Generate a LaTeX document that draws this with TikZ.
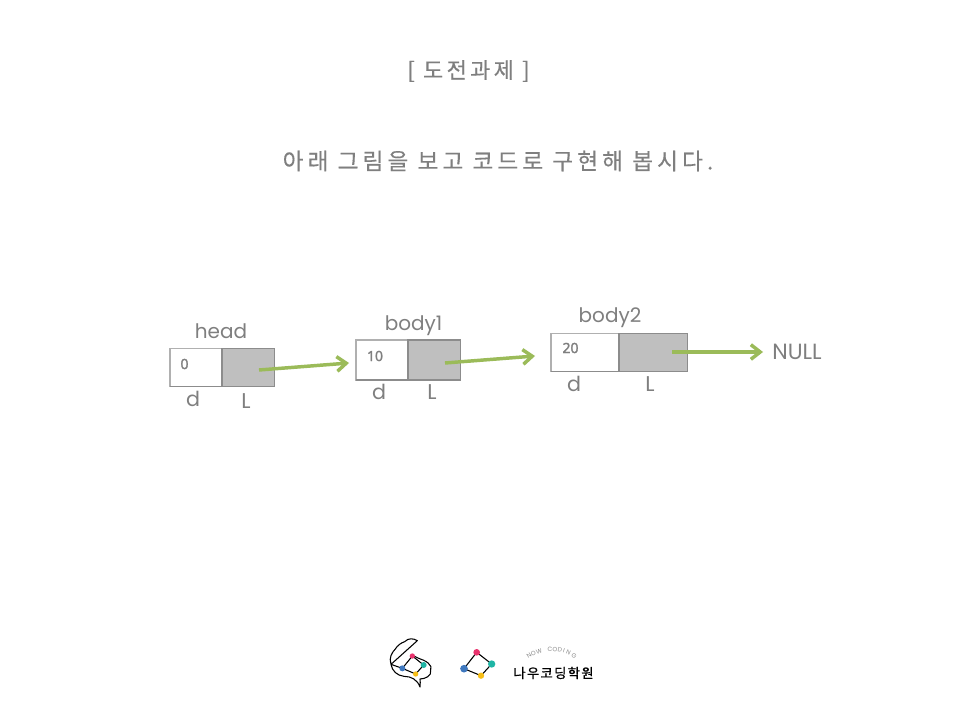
\documentclass[tikz,border=0pt]{standalone}
\usepackage{fontspec}
\usetikzlibrary{arrows.meta}
\setmainfont{Poppins}
\newfontfamily\krtitle[LetterSpace=15,FakeBold=0.3]{Noto Sans CJK KR}
\newfontfamily\krbody[LetterSpace=18,FakeBold=0.3]{Noto Sans CJK KR}
\newfontfamily\krlogo[LetterSpace=10,FakeBold=0.8]{Noto Sans CJK KR}
\newfontfamily\numfont[FakeBold=1.6]{Noto Sans}
\definecolor{txt}{HTML}{7F7F7F}
\definecolor{bord}{HTML}{B0B0B0}
\definecolor{bordd}{HTML}{8C8C8C}
\definecolor{fillg}{HTML}{BFBFBF}
\definecolor{arrowg}{HTML}{9BBB59}
\definecolor{dpink}{HTML}{E8336D}
\definecolor{dteal}{HTML}{1FB5A5}
\definecolor{dyellow}{HTML}{F7BE16}
\definecolor{dblue}{HTML}{3F78BE}
\tikzset{
  cell/.style={line width=0.9pt,inner sep=0pt,outer sep=0pt},
  dcell/.style={cell,draw=bord,fill=white},
  lcell/.style={cell,draw=bordd,fill=fillg},
  lab/.style={text=txt,font=\fontsize{15}{18}\selectfont,inner sep=0pt},
  letterd/.style={text=txt,font=\fontsize{15.5}{18}\selectfont,inner sep=0pt},
  letterl/.style={text=txt,font=\fontsize{16}{18}\selectfont,inner sep=0pt},
  nulltxt/.style={text=txt,font=\fontsize{16.5}{18}\selectfont,inner sep=0pt},
  val/.style={text=txt,font=\numfont\fontsize{10.5}{12}\selectfont,inner sep=0pt},
  link/.style={draw=arrowg,line width=2.6pt,-{Straight Barb[length=7pt,width=11pt,line width=2.6pt]}},
  baseline rule/.style={draw=bordd,line width=0.9pt},
  logoline/.style={draw=black,line width=0.8pt,line join=round},
  ttl/.style={text=txt,inner sep=0pt},
  arcch/.style={text=gray!90,font=\fontsize{4.6}{5}\selectfont,inner sep=0pt},
}
\begin{document}
\begin{tikzpicture}[x=0.75pt,y=-0.75pt]
\useasboundingbox (0,0) rectangle (960,720);
\fill[white] (0,0) rectangle (960,720);
% titles
\node[ttl,font=\krtitle\fontsize{16.5}{18}\selectfont] (title) at (468.5,71) {[ 도전과제 ]};
\node[ttl,font=\krbody\fontsize{17}{18}\selectfont] (sub) at (498,161) {아래 그림을 보고 코드로 구현해 봅시다.};
% cells
\node[dcell,minimum width=39pt,minimum height=29pt] (d0) at (196,367.5) {};
\node[lcell,minimum width=39.5pt,minimum height=29pt] (l0) at (248.3,367.5) {};
\node[dcell,minimum width=39pt,minimum height=30pt] (d1) at (382,360) {};
\node[lcell,minimum width=39.5pt,minimum height=30pt] (l1) at (434.3,360) {};
\node[dcell,minimum width=51pt,minimum height=29pt] (d2) at (585,352.5) {};
\node[lcell,minimum width=51.25pt,minimum height=29pt] (l2) at (653.2,352.5) {};
\draw[baseline rule] (d0.south west) -- (d0.south east);
\draw[baseline rule] (d1.south west) -- (d1.south east);
\draw[baseline rule] (d2.south west) -- (d2.south east);
% labels
\node[lab] (nh) at (221,331) {head};
\node[lab] (nb1) at (413.5,325.5) {body1};
\node[lab] (nb2) at (610,318) {body2};
\node[letterd] (ld0) at (193,399) {d};
\node[letterl] (ll0) at (246,401) {L};
\node[letterd] (ld1) at (379,392) {d};
\node[letterl] (ll1) at (432,392) {L};
\node[letterd] (ld2) at (574,384) {d};
\node[letterl] (ll2) at (650,384) {L};
\node[nulltxt] (null) at (797,352) {NULL};
\node[val] (v0) at (184.5,364) {0};
\node[val] (v1) at (375,356) {10};
\node[val] (v2) at (570.5,348) {20};
% connectors
\coordinate (a0) at (259,370);
\coordinate (b0) at (349,363);
\coordinate (a1) at (445,363);
\coordinate (b1) at (535,356);
\coordinate (a2) at (672,352);
\coordinate (b2) at (763,352);
\draw[link] (a0) -- (b0);
\draw[link] (a1) -- (b1);
\draw[link] (a2) -- (b2);
% logo 1
\begin{scope}[shift={(380,635)},x=0.25pt,y=-0.25pt]
\coordinate (tip) at (33,88);
\draw[logoline] (tip) .. controls (26,68) and (36,52) .. (46,42)
  .. controls (52,32) and (62,24) .. (74,20)
  .. controls (86,8) and (100,10) .. (112,17)
  -- (tip);
\draw[logoline] (tip) .. controls (36,108) and (52,122) .. (72,124)
  .. controls (94,124) and (112,134) .. (120,156)
  .. controls (124,146) and (118,138) .. (120,132)
  .. controls (136,132) and (156,122) .. (152,106)
  .. controls (160,90) and (136,76) .. (116,70)
  .. controls (110,68) and (104,62) .. (97,63);
\coordinate (p1) at (97,63); \coordinate (t1) at (131,90);
\coordinate (y1) at (107,117); \coordinate (u1) at (67,100);
\draw[logoline] (tip) -- (u1);
\draw[logoline] (p1) -- (t1) -- (y1) -- (u1) -- cycle;
\fill[dpink] (p1) circle[radius=8];
\fill[dteal] (t1) circle[radius=9];
\fill[dyellow] (y1) circle[radius=8];
\fill[dblue] (u1) circle[radius=9];
\end{scope}
% logo 2
\begin{scope}[shift={(370,630)},x=0.25pt,y=-0.25pt]
\coordinate (p2) at (320,67); \coordinate (t2) at (365,102);
\coordinate (y2) at (333,137); \coordinate (u2) at (282,116);
\draw[logoline] (p2) -- (t2) -- (y2) -- (u2) -- cycle;
\fill[dpink] (p2) circle[radius=10];
\fill[dteal] (t2) circle[radius=11];
\fill[dyellow] (y2) circle[radius=9.5];
\fill[dblue] (u2) circle[radius=11.5];
\end{scope}
% logo text
\node[inner sep=0pt,text=black,font=\krlogo\fontsize{10}{12}\selectfont] (brand) at (553.5,673) {나우코딩학원};
\node[arcch,rotate=33] (c1) at (529.1,655.8) {N};
\node[arcch,rotate=27] (c2) at (533.2,653.4) {O};
\node[arcch,rotate=18] (c3) at (539,651.1) {W};
\node[arcch,rotate=1] (c4) at (550,649) {C};
\node[arcch,rotate=-5] (c5) at (555,649.2) {O};
\node[arcch,rotate=-11] (c6) at (560,649.9) {D};
\node[arcch,rotate=-17] (c7) at (564,651) {I};
\node[arcch,rotate=-24] (c8) at (568.5,652.5) {N};
\node[arcch,rotate=-32] (c9) at (574,655.5) {G};
\end{tikzpicture}
\end{document}
